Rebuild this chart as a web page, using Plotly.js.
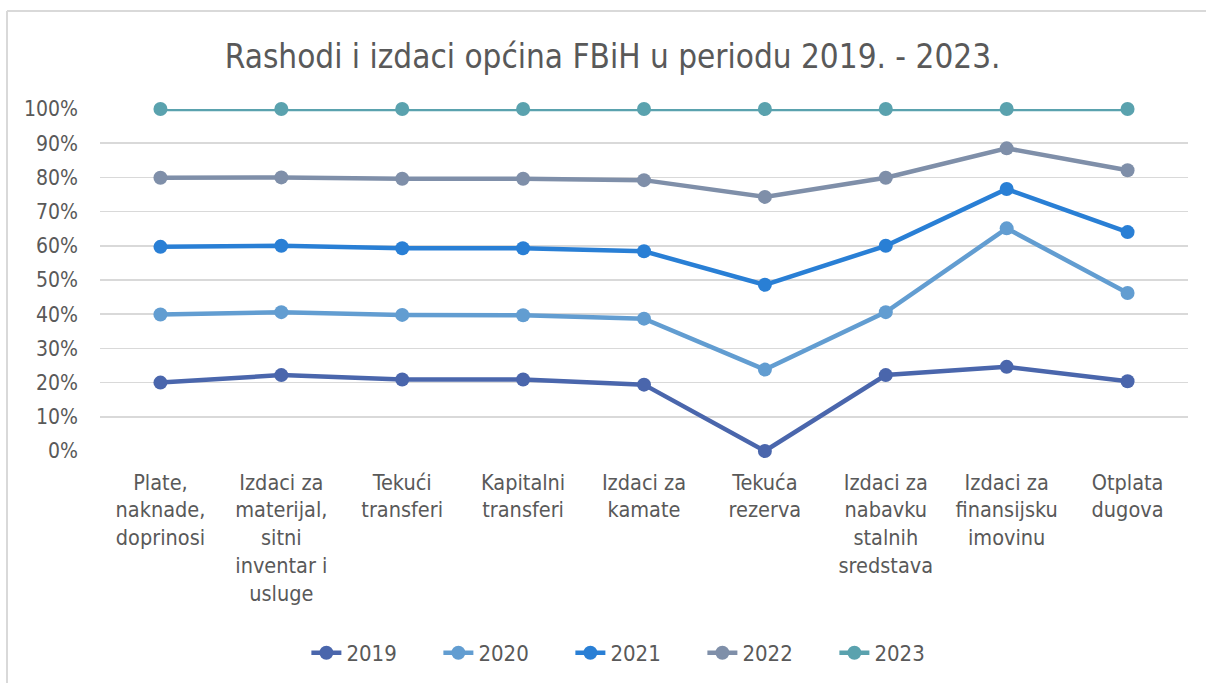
<!DOCTYPE html>
<html>
<head>
<meta charset="utf-8">
<script src="https://cdn.plot.ly/plotly-3.0.1.min.js"></script>
<style>
html,body{margin:0;padding:0;background:#fff;}
#chart{width:1206px;height:683px;}
</style>
</head>
<body>
<div id="chart"></div>
<script>
var categories = [
  "Plate,<br>naknade,<br>doprinosi",
  "Izdaci za<br>materijal,<br>sitni<br>inventar i<br>usluge",
  "Tekući<br>transferi",
  "Kapitalni<br>transferi",
  "Izdaci za<br>kamate",
  "Tekuća<br>rezerva",
  "Izdaci za<br>nabavku<br>stalnih<br>sredstava",
  "Izdaci za<br>finansijsku<br>imovinu",
  "Otplata<br>dugova"
];
var seriesNames = ["2019", "2020", "2021", "2022", "2023"];
// cumulative (100% stacked) shares
var v2019 = [0.200, 0.222, 0.209, 0.209, 0.194, 0.000, 0.222, 0.246, 0.204];
var v2020 = [0.399, 0.406, 0.398, 0.397, 0.387, 0.238, 0.406, 0.651, 0.462];
var v2021 = [0.597, 0.600, 0.593, 0.593, 0.584, 0.486, 0.600, 0.766, 0.640];
var v2022 = [0.799, 0.800, 0.796, 0.796, 0.792, 0.743, 0.799, 0.885, 0.821];
var v2023 = [1.000, 1.000, 1.000, 1.000, 1.000, 1.000, 1.000, 1.000, 1.000];
var yTickVals = [0, 0.1, 0.2, 0.3, 0.4, 0.5, 0.6, 0.7, 0.8, 0.9, 1.0];
var yTickText = ["0%", "10%", "20%", "30%", "40%", "50%", "60%", "70%", "80%", "90%", "100%"];

var colors = ["#4a66ac", "#629dd1", "#297fd5", "#7f8fa9", "#5aa2ae"];
var allVals = [v2019, v2020, v2021, v2022, v2023];
var xIdx = categories.map(function(_, i){ return i; });

var traces = allVals.map(function(vals, k){
  return {
    type: "scatter",
    mode: "lines+markers",
    name: seriesNames[k],
    x: xIdx,
    y: vals,
    line: {color: colors[k], width: 4.5},
    marker: {color: colors[k], size: 14},
    cliponaxis: false
  };
});

var txt = "#595959";
var fam = "DejaVu Sans Condensed, sans-serif";
var layout = {
  width: 1206,
  height: 683,
  paper_bgcolor: "#ffffff",
  plot_bgcolor: "#ffffff",
  margin: {l: 100, r: 18, t: 109, b: 232},
  title: {
    text: "Rashodi i izdaci općina FBiH u periodu 2019. - 2023.",
    font: {family: fam, size: 33, color: txt},
    x: 0.508, xref: "container", xanchor: "center",
    y: 0.918, yref: "container", yanchor: "middle"
  },
  xaxis: {
    range: [-0.5, 8.5],
    tickmode: "array",
    tickvals: xIdx,
    ticktext: categories,
    showgrid: false,
    zeroline: false,
    showline: false,
    ticks: "",
    tickangle: 0,
    ticklabelstandoff: 16,
    automargin: false,
    fixedrange: true,
    tickfont: {family: fam, size: 21.5, color: txt}
  },
  yaxis: {
    range: [0, 1],
    tickmode: "array",
    tickvals: yTickVals,
    ticktext: yTickText,
    showgrid: true,
    gridcolor: "#d9d9d9",
    gridwidth: 1.5,
    zeroline: false,
    showline: false,
    ticks: "",
    ticklabelstandoff: 21,
    automargin: false,
    fixedrange: true,
    tickfont: {family: fam, size: 21, color: txt}
  },
  showlegend: true,
  legend: {
    orientation: "h",
    x: 0.493, xanchor: "center",
    xref: "paper",
    y: 0.044, yref: "container", yanchor: "middle",
    font: {family: fam, size: 22, color: txt},
    itemwidth: 30,
    entrywidth: 87,
    entrywidthmode: "pixels",
    tracegroupgap: 0
  },
  shapes: [
    {type: "line", xref: "paper", yref: "paper",
     x0: (7 - 100) / 1088, x1: (7 - 100) / 1088, y0: (451 - 11) / 342, y1: (451 - 690) / 342,
     line: {color: "#d9d9d9", width: 2}},
    {type: "line", xref: "paper", yref: "paper",
     x0: (7 - 100) / 1088, x1: (1210 - 100) / 1088, y0: (451 - 11) / 342, y1: (451 - 11) / 342,
     line: {color: "#d9d9d9", width: 2}}
  ]
};

Plotly.newPlot("chart", traces, layout, {displayModeBar: false, staticPlot: true});
</script>
</body>
</html>
